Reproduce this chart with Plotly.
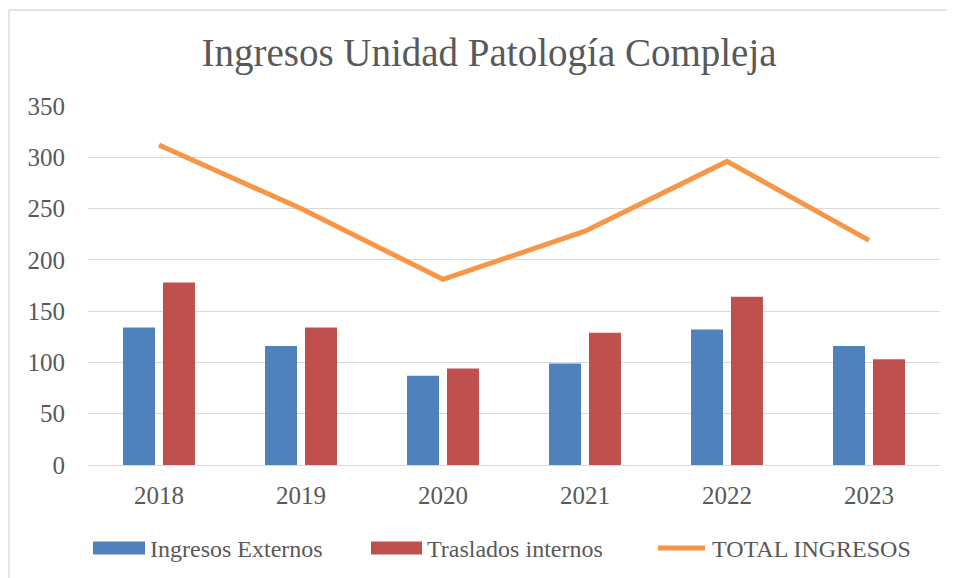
import plotly.graph_objects as go

years = ["2018", "2019", "2020", "2021", "2022", "2023"]
externos = [134, 116, 87, 99, 132, 116]
internos = [178, 134, 94, 129, 164, 103]
total = [312, 250, 181, 228, 296, 219]
y_ticks = [0, 50, 100, 150, 200, 250, 300, 350]

FONT = "Liberation Serif"
TXT = "#595959"
GRID = "#d9d9d9"
C_EXT, C_INT, C_TOT = "#4F81BD", "#C0504D", "#F79646"

fig = go.Figure()
fig.add_trace(go.Bar(x=years, y=externos, name="Ingresos Externos", showlegend=False,
                     marker=dict(color=C_EXT, line=dict(width=0))))
fig.add_trace(go.Bar(x=years, y=internos, name="Traslados internos", showlegend=False,
                     marker=dict(color=C_INT, line=dict(width=0))))
fig.add_trace(go.Scatter(x=years, y=total, name="TOTAL INGRESOS", mode="lines", showlegend=False,
                         line=dict(color=C_TOT, width=5)))

# page offset of the plot div (body margin)
OFF = 8
W, H = 955 - OFF, 578 - OFF
L, T = 88 - OFF, 106 - OFF
R = W - (940 - OFF)
B = H - (465 - OFF)
pw, ph = W - L - R, H - T - B

def px_x(x):
    return (x - OFF - L) / pw

def px_y(y):
    return (H - B - (y - OFF)) / ph

# chart-area border (only top and left edges visible in the picture)
shapes = [
    dict(type="line", xref="paper", yref="paper", x0=px_x(9), x1=px_x(980),
         y0=px_y(10), y1=px_y(10), line=dict(color=GRID, width=1.3), layer="below"),
    dict(type="line", xref="paper", yref="paper", x0=px_x(9), x1=px_x(9),
         y0=px_y(10), y1=px_y(600), line=dict(color=GRID, width=1.3), layer="below"),
]
annotations = []

# manual legend (Excel style: wide swatches)
leg_y = 548
legend_items = [
    (fig.data[0].name, C_EXT, "rect", 93, 145, 148),
    (fig.data[1].name, C_INT, "rect", 371, 422, 425),
    (fig.data[2].name, C_TOT, "line", 655, 708, 710),
]
for name, col, kind, sx0, sx1, tx in legend_items:
    if kind == "rect":
        shapes.append(dict(type="rect", xref="paper", yref="paper",
                           x0=px_x(sx0), x1=px_x(sx1), y0=px_y(leg_y + 6.5), y1=px_y(leg_y - 6.5),
                           fillcolor=col, line=dict(width=0)))
    else:
        shapes.append(dict(type="line", xref="paper", yref="paper",
                           x0=px_x(sx0 + 3), x1=px_x(sx1 - 3), y0=px_y(leg_y), y1=px_y(leg_y),
                           line=dict(color=col, width=5)))
    annotations.append(dict(text=name, xref="paper", yref="paper", x=px_x(tx), y=px_y(leg_y + 1),
                            xanchor="left", yanchor="middle", showarrow=False,
                            font=dict(family=FONT, size=24, color=TXT)))

fig.update_layout(
    width=W, height=H,
    margin=dict(l=L, r=R, t=T, b=B, autoexpand=False),
    paper_bgcolor="white", plot_bgcolor="white",
    font=dict(family=FONT, color=TXT, size=24),
    title=dict(text="Ingresos Unidad Patología Compleja", x=px_x(489), xanchor="center",
               xref="paper", y=1 - (52 - OFF) / H, yanchor="middle",
               font=dict(family=FONT, size=39, color=TXT)),
    barmode="group", bargap=0.437, bargroupgap=0.2,
    showlegend=False,
    xaxis=dict(showgrid=False, showline=False, zeroline=False, ticks="", tickangle=0,
               tickfont=dict(family=FONT, size=25, color=TXT), ticklabelstandoff=13),
    yaxis=dict(range=[0, 350], tickvals=y_ticks, showgrid=True, gridcolor=GRID,
               gridwidth=1.3, zeroline=True, zerolinecolor=GRID, zerolinewidth=1.3,
               showline=False, ticks="",
               tickfont=dict(family=FONT, size=25, color=TXT), ticklabelstandoff=22),
    shapes=shapes,
    annotations=annotations,
)

fig.write_html("out.html")
